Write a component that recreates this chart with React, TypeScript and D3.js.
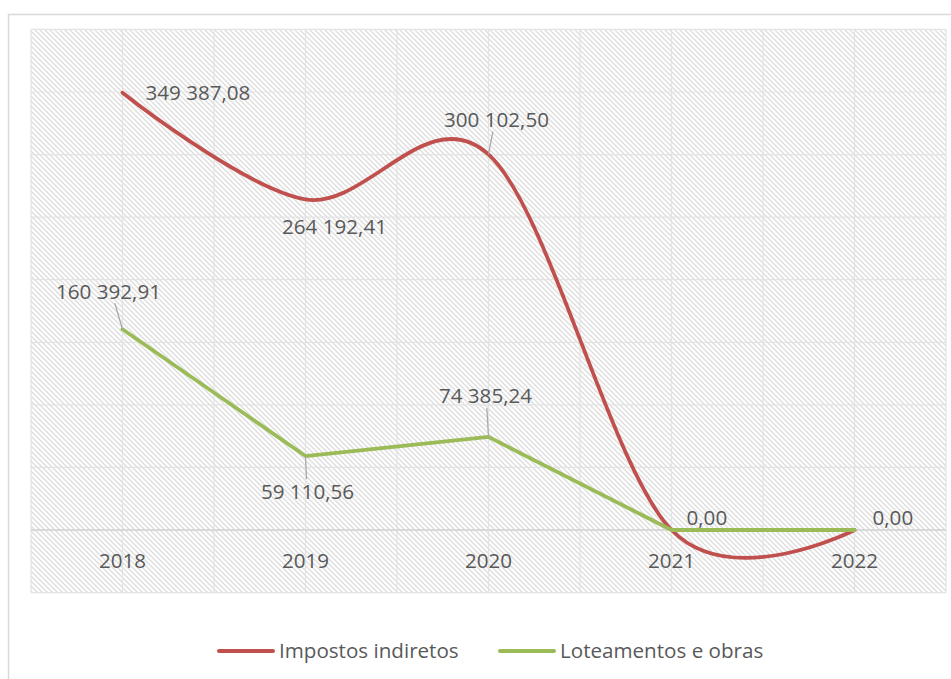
import React from 'react';
import * as d3 from 'd3';

const years = ['2018', '2019', '2020', '2021', '2022'];
const impostosIndiretos = [349387.08, 264192.41, 300102.5, 0, 0];
const loteamentosObras = [160392.91, 59110.56, 74385.24, 0, 0];
const seriesNames = ['Impostos indiretos', 'Loteamentos e obras'];
const seriesColors = ['#C0504D', '#9BBB59'];

// label placement relative to each point: [dx, dy, anchor, leader, shown]
type Place = [number, number, 'start' | 'middle', boolean, boolean];
const redLabelPlace: Place[] = [
  [23, 0, 'start', false, true],
  [29, 27, 'middle', false, true],
  [8, -35, 'middle', true, true],
  [15, -12, 'start', false, true],
  [18, -12, 'start', false, true],
];
// the green 0,00 labels sit exactly under the red ones
const greenLabelPlace: Place[] = [
  [-14, -38, 'middle', true, true],
  [2, 36, 'middle', true, true],
  [-3, -41, 'middle', true, true],
  [15, -12, 'start', false, false],
  [18, -12, 'start', false, false],
];

const fmt = (v: number) => {
  const [int, dec] = v.toFixed(2).split('.');
  return int.replace(/\B(?=(\d{3})+(?!\d))/g, ' ') + ',' + dec;
};

const W = 951;
const H = 679;
const plot = { left: 31, right: 946, top: 29.4, bottom: 592.6 };
const font = "'Open Sans', 'Noto Sans', sans-serif";
const fontSize = 20.6;
const textColor = '#595959';

const App: React.FC = () => {
  const x = d3.scalePoint<string>()
    .domain(years)
    .range([plot.left, plot.right])
    .padding(0.5);

  const y = d3.scaleLinear()
    .domain([-50000, 400000])
    .range([plot.bottom, plot.top]);

  const step = x.step();
  const vLines = d3.range(0, years.length * 2 + 1).map(i => plot.left + (i * step) / 2);
  const hTicks = y.ticks(9);

  const redLine = d3.line<number>()
    .x((_, i) => x(years[i])!)
    .y(d => y(d))
    .curve(d3.curveCardinal.tension(0));

  const greenLine = d3.line<number>()
    .x((_, i) => x(years[i])!)
    .y(d => y(d));

  const labels = (vals: number[], places: Place[], key: string) =>
    vals.map((v, i) => {
      const [dx, dy, anchor, leader, shown] = places[i];
      if (!shown) return null;
      const px = x(years[i])!;
      const py = y(v);
      const lx = px + dx;
      const ly = py + dy;
      let leaderEl = null;
      if (leader) {
        const t = dy < 0 ? ly + 12 : ly - 13;
        leaderEl = (
          <line x1={px} y1={py} x2={px + dx * 0.55} y2={t}
            stroke="#a6a6a6" strokeWidth={1.2} />
        );
      }
      return (
        <g key={key + i}>
          {leaderEl}
          <text x={lx} y={ly} dy="0.36em" textAnchor={anchor}
            fontFamily={font} fontSize={fontSize} fill={textColor}>{fmt(v)}</text>
        </g>
      );
    });

  const legend = [
    { name: seriesNames[0], color: seriesColors[0], x0: 219 },
    { name: seriesNames[1], color: seriesColors[1], x0: 500 },
  ];

  return (
    <svg width={W} height={H} style={{ position: 'absolute', left: 0, top: 0, background: '#fff' }}>
      <defs>
        <pattern id="hatch" patternUnits="userSpaceOnUse" width={5} height={5}>
          <rect width={5} height={5} fill="#fff" />
          <path d="M-1,-1 L6,6 M-1,4 L1,6 M4,-1 L6,1" stroke="#dedede" strokeWidth={1.4} />
        </pattern>
      </defs>

      <rect x={8.5} y={14.5} width={W} height={H} fill="#fff" stroke="#d9d9d9" strokeWidth={1.5} />

      <rect x={plot.left} y={plot.top} width={plot.right - plot.left} height={plot.bottom - plot.top}
        fill="url(#hatch)" />

      <g stroke="#e3e3e3" strokeWidth={1.2}>
        {hTicks.map(t => (
          <line key={'h' + t} x1={plot.left} x2={plot.right} y1={y(t)} y2={y(t)} />
        ))}
        {vLines.map((vx, i) => (
          <line key={'v' + i} x1={vx} x2={vx} y1={plot.top} y2={plot.bottom} />
        ))}
      </g>

      <line x1={plot.left} x2={plot.right} y1={y(0)} y2={y(0)} stroke="#d9d9d9" strokeWidth={2.2} />

      {years.map(yr => (
        <text key={yr} x={x(yr)} y={561} dy="0.36em" textAnchor="middle"
          fontFamily={font} fontSize={fontSize} fill={textColor}>{yr}</text>
      ))}

      <path d={redLine(impostosIndiretos)!} fill="none" stroke={seriesColors[0]}
        strokeWidth={3.8} strokeLinecap="round" strokeLinejoin="round" />
      <path d={greenLine(loteamentosObras)!} fill="none" stroke={seriesColors[1]}
        strokeWidth={3.8} strokeLinecap="round" strokeLinejoin="round" />

      {labels(impostosIndiretos, redLabelPlace, 'r')}
      {labels(loteamentosObras, greenLabelPlace, 'g')}

      {legend.map(l => (
        <g key={l.name}>
          <line x1={l.x0} x2={l.x0 + 54} y1={651} y2={651} stroke={l.color}
            strokeWidth={4} strokeLinecap="round" />
          <text x={l.x0 + 60} y={651} dy="0.36em" fontFamily={font} fontSize={fontSize}
            fill={textColor}>{l.name}</text>
        </g>
      ))}
    </svg>
  );
};

export default App;
